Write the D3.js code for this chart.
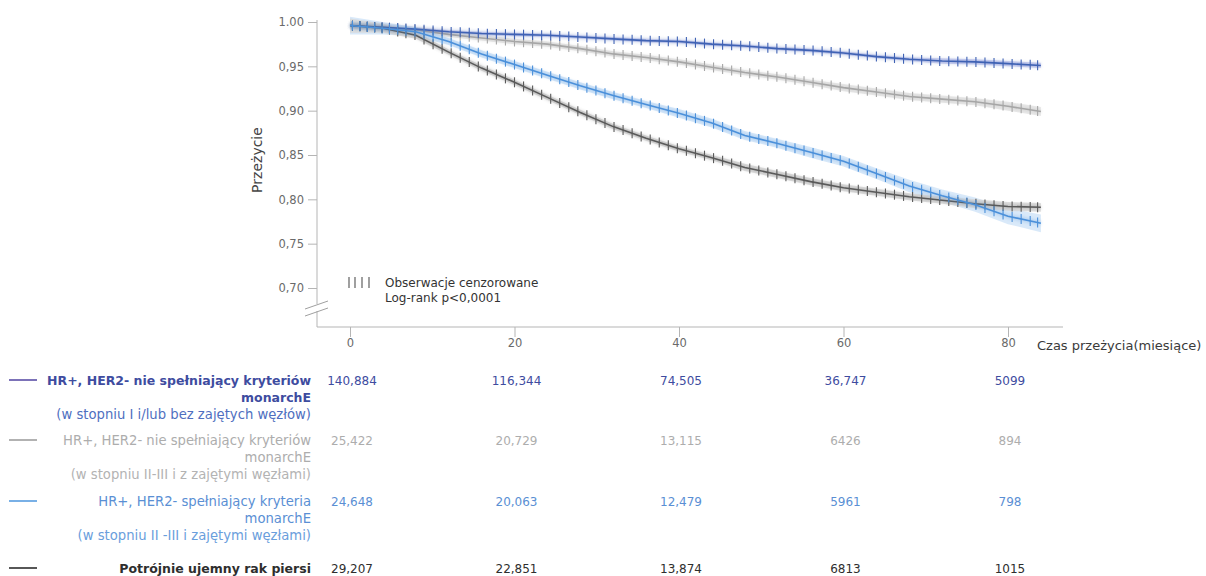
<!DOCTYPE html>
<html>
<head>
<meta charset="utf-8">
<script src="https://cdn.jsdelivr.net/npm/d3@7"></script>
<style>
  html, body { margin: 0; padding: 0; background: #fff; }
  svg { display: block; font-family: "DejaVu Sans", Verdana, sans-serif; }
</style>
</head>
<body>
<svg id="chart" width="1206" height="576"></svg>
<script>
// Kaplan–Meier survival estimates by subgroup (months since diagnosis)
const months = [0, 4, 8, 12, 16, 20, 24, 28, 32, 36, 40, 44, 48, 52, 56, 60, 64, 68, 72, 76, 80, 84];

const survStage1 = [0.996, 0.994, 0.992, 0.989, 0.987, 0.986, 0.985, 0.983, 0.981, 0.979, 0.978, 0.975, 0.973, 0.970, 0.968, 0.965, 0.961, 0.958, 0.956, 0.955, 0.953, 0.951];
const survNodal  = [0.996, 0.994, 0.991, 0.986, 0.982, 0.978, 0.975, 0.970, 0.964, 0.960, 0.955, 0.949, 0.943, 0.938, 0.932, 0.926, 0.921, 0.916, 0.913, 0.910, 0.905, 0.899];
const survMonarchE = [0.996, 0.993, 0.989, 0.978, 0.964, 0.952, 0.940, 0.928, 0.917, 0.907, 0.897, 0.886, 0.872, 0.863, 0.853, 0.843, 0.829, 0.815, 0.804, 0.794, 0.781, 0.773];
const survTNBC   = [0.996, 0.993, 0.985, 0.966, 0.948, 0.932, 0.915, 0.898, 0.882, 0.869, 0.857, 0.847, 0.836, 0.828, 0.820, 0.813, 0.808, 0.803, 0.799, 0.795, 0.792, 0.791];

// half-widths of the 95% confidence bands
const ciStage1   = [0.008, 0.005, 0.002, 0.002, 0.002, 0.002, 0.002, 0.002, 0.002, 0.002, 0.002, 0.002, 0.002, 0.002, 0.002, 0.002, 0.002, 0.002, 0.003, 0.003, 0.003, 0.003];
const ciNodal    = [0.008, 0.005, 0.003, 0.003, 0.003, 0.003, 0.003, 0.003, 0.003, 0.003, 0.003, 0.003, 0.003, 0.003, 0.003, 0.004, 0.004, 0.004, 0.004, 0.004, 0.005, 0.005];
const ciMonarchE = [0.010, 0.007, 0.005, 0.004, 0.004, 0.004, 0.004, 0.004, 0.004, 0.004, 0.005, 0.005, 0.005, 0.005, 0.006, 0.006, 0.006, 0.007, 0.007, 0.008, 0.009, 0.010];
const ciTNBC     = [0.008, 0.005, 0.004, 0.003, 0.003, 0.003, 0.003, 0.003, 0.003, 0.003, 0.003, 0.003, 0.004, 0.004, 0.004, 0.004, 0.004, 0.004, 0.004, 0.005, 0.005, 0.005];

// censoring times (months)
const censorTimes = [0.3, 1.2, 2.1, 3.0, 3.9, 4.8, 5.8, 6.8, 7.9, 9.0, 10.1, 11.2, 12.3, 13.4, 14.5, 15.6, 16.7, 17.8,
  18.9, 20.0, 21.1, 22.2, 23.3, 24.4, 25.5, 26.6, 27.7, 28.8, 29.9, 31.0, 32.1, 33.2, 34.3, 35.4, 36.5, 37.6,
  38.7, 39.8, 40.9, 42.0, 43.1, 44.2, 45.3, 46.4, 47.5, 48.6, 49.7, 50.8, 51.9, 53.0, 54.1, 55.2, 56.3, 57.4,
  58.5, 59.6, 60.7, 61.8, 62.9, 64.0, 65.1, 66.2, 67.3, 68.4, 69.5, 70.6, 71.7, 72.8, 73.9, 75.0, 76.1, 77.2,
  78.3, 79.4, 80.5, 81.6, 82.7, 83.6];

// axis ticks
const xTicks = [0, 20, 40, 60, 80];
const yTicks = [1.00, 0.95, 0.90, 0.85, 0.80, 0.75, 0.70];
const yTickLabels = ["1.00", "0,95", "0,90", "0,85", "0,80", "0,75", "0,70"];

// numbers at risk
const riskStage1   = ["140,884", "116,344", "74,505", "36,747", "5099"];
const riskNodal    = ["25,422", "20,729", "13,115", "6426", "894"];
const riskMonarchE = ["24,648", "20,063", "12,479", "5961", "798"];
const riskTNBC     = ["29,207", "22,851", "13,874", "6813", "1015"];

// group labels (one entry per text line)
const labelStage1   = ["HR+, HER2- nie spełniający kryteriów", "monarchE", "(w stopniu I i/lub bez zajętych węzłów)"];
const labelNodal    = ["HR+, HER2- nie spełniający kryteriów", "monarchE", "(w stopniu II-III i z zajętymi węzłami)"];
const labelMonarchE = ["HR+, HER2- spełniający kryteria", "monarchE", "(w stopniu II -III i zajętymi węzłami)"];
const labelTNBC     = ["Potrójnie ujemny rak piersi"];

const groups = [
  { surv: survStage1, ci: ciStage1, risk: riskStage1, label: labelStage1, bold: [true, true, false],
    line: "#3f62b4", band: "#c9cdf0", text: "#3e4c9f", textSub: "#4f6fc0", swatch: "#6e62b0", rowY: 380 },
  { surv: survNodal, ci: ciNodal, risk: riskNodal, label: labelNodal, bold: [false, false, false],
    line: "#a6a6a6", band: "#e3e3e3", text: "#adadad", textSub: "#b3b3b3", swatch: "#aaaaaa", rowY: 440 },
  { surv: survMonarchE, ci: ciMonarchE, risk: riskMonarchE, label: labelMonarchE, bold: [false, false, false],
    line: "#4b90da", band: "#cfe3f8", text: "#5a8fd4", textSub: "#6a9edc", swatch: "#6aa8e4", rowY: 501 },
  { surv: survTNBC, ci: ciTNBC, risk: riskTNBC, label: labelTNBC, bold: [true],
    line: "#5a5a5a", band: "#dadada", text: "#2e2e2e", textSub: "#2e2e2e", swatch: "#444444", rowY: 568 }
];

const svg = d3.select("#chart");

// soft halo under the curves
const defs = svg.append("defs");
defs.append("filter").attr("id", "halo").attr("x", "-5%").attr("y", "-50%").attr("width", "110%").attr("height", "200%")
  .append("feGaussianBlur").attr("stdDeviation", 1.6);

const x = d3.scaleLinear().domain([0, 80]).range([350, 1008]);
const y = d3.scaleLinear().domain([0.70, 1.00]).range([288, 22]);

const axisColor = "#b5b5b5";
const tickText = "#6a6a6a";

// y axis
const yAxis = svg.append("g").attr("transform", "translate(317,0)")
  .call(d3.axisLeft(y).tickValues(yTicks).tickSize(9).tickFormat((d, i) => yTickLabels[i]));
yAxis.select(".domain").remove();
yAxis.selectAll(".tick line").attr("stroke", axisColor);
yAxis.selectAll(".tick text").attr("fill", tickText).attr("font-size", 11.5).attr("x", -13)
  .attr("font-family", "DejaVu Sans, sans-serif");

// y axis line with a scale break below the last tick
svg.append("line").attr("x1", 317).attr("x2", 317).attr("y1", 20).attr("y2", 304).attr("stroke", axisColor);
svg.append("line").attr("x1", 317).attr("x2", 317).attr("y1", 311).attr("y2", 327).attr("stroke", axisColor);
[[305, 309, 328, 301], [305, 316, 328, 308]].forEach(s => {
  svg.append("line").attr("x1", s[0]).attr("y1", s[1]).attr("x2", s[2]).attr("y2", s[3])
    .attr("stroke", "#a0a0a0").attr("stroke-width", 1);
});

// x axis
svg.append("line").attr("x1", 317).attr("x2", 1063).attr("y1", 327).attr("y2", 327).attr("stroke", axisColor);
const xAxis = svg.append("g").attr("transform", "translate(0,327)")
  .call(d3.axisBottom(x).tickValues(xTicks).tickSize(10).tickFormat(d3.format("d")));
xAxis.select(".domain").remove();
xAxis.selectAll(".tick line").attr("stroke", axisColor);
xAxis.selectAll(".tick text").attr("fill", tickText).attr("font-size", 11.5).attr("y", 12)
  .attr("font-family", "DejaVu Sans, sans-serif");

svg.append("text").attr("x", 1037).attr("y", 350).attr("font-size", 13).attr("fill", "#3a3a3a")
  .text("Czas przeżycia(miesiące)");

svg.append("text").attr("transform", "translate(262,160) rotate(-90)").attr("text-anchor", "middle")
  .attr("font-size", 14).attr("fill", "#444").text("Przeżycie");

// confidence bands
const band = d3.area().x((d, i) => x(months[i]))
  .y0(d => y(d[0] - d[1])).y1(d => y(d[0] + d[1]));
groups.forEach(g => {
  svg.append("path").datum(g.surv.map((v, i) => [v, g.ci[i]]))
    .attr("d", band).attr("fill", g.band).attr("opacity", 0.8);
});

// survival curves with censoring ticks
const line = d3.line().x((d, i) => x(months[i])).y(d => y(d));
const interp = (vals, t) => {
  const i = Math.min(d3.bisectRight(months, t) - 1, months.length - 2);
  const f = (t - months[i]) / (months[i + 1] - months[i]);
  return vals[i] + (vals[i + 1] - vals[i]) * f;
};
[1, 0, 3, 2].forEach(k => {
  const g = groups[k];
  svg.append("path").datum(g.surv).attr("d", line)
    .attr("fill", "none").attr("stroke", g.line).attr("stroke-width", 5)
    .attr("opacity", 0.22).attr("filter", "url(#halo)");
  svg.append("path").datum(g.surv).attr("d", line)
    .attr("fill", "none").attr("stroke", g.line).attr("stroke-width", 1.6);
  svg.append("g").selectAll("line").data(censorTimes).join("line")
    .attr("x1", t => x(t)).attr("x2", t => x(t))
    .attr("y1", t => y(interp(g.surv, t)) - 5).attr("y2", t => y(interp(g.surv, t)) + 5)
    .attr("stroke", g.line).attr("stroke-width", 1.1);
});

// in-plot legend
[349, 355, 362, 369].forEach(px => {
  svg.append("line").attr("x1", px).attr("x2", px).attr("y1", 277).attr("y2", 288)
    .attr("stroke", "#777").attr("stroke-width", 1.4);
});
svg.append("text").attr("x", 385).attr("y", 287).attr("font-size", 12).attr("fill", "#333")
  .text("Obserwacje cenzorowane");
svg.append("text").attr("x", 385).attr("y", 302).attr("font-size", 12).attr("fill", "#333")
  .text("Log-rank p<0,0001");

// numbers-at-risk table
groups.forEach(g => {
  svg.append("line").attr("x1", 9).attr("x2", 37).attr("y1", g.rowY).attr("y2", g.rowY)
    .attr("stroke", g.swatch).attr("stroke-width", 1.8);
  g.label.forEach((txt, j) => {
    svg.append("text").attr("x", 311).attr("y", g.rowY + 4.5 + j * 17).attr("text-anchor", "end")
      .attr("font-size", g.bold[j] ? 12.5 : 13.2).attr("font-weight", g.bold[j] ? "bold" : "normal")
      .attr("fill", j === 2 ? g.textSub : g.text).text(txt);
  });
  g.risk.forEach((r, j) => {
    svg.append("text").attr("x", x(xTicks[j]) + 2).attr("y", g.rowY + 4.5).attr("text-anchor", "middle")
      .attr("font-size", 12).attr("fill", g.text).text(r);
  });
});
</script>
</body>
</html>
